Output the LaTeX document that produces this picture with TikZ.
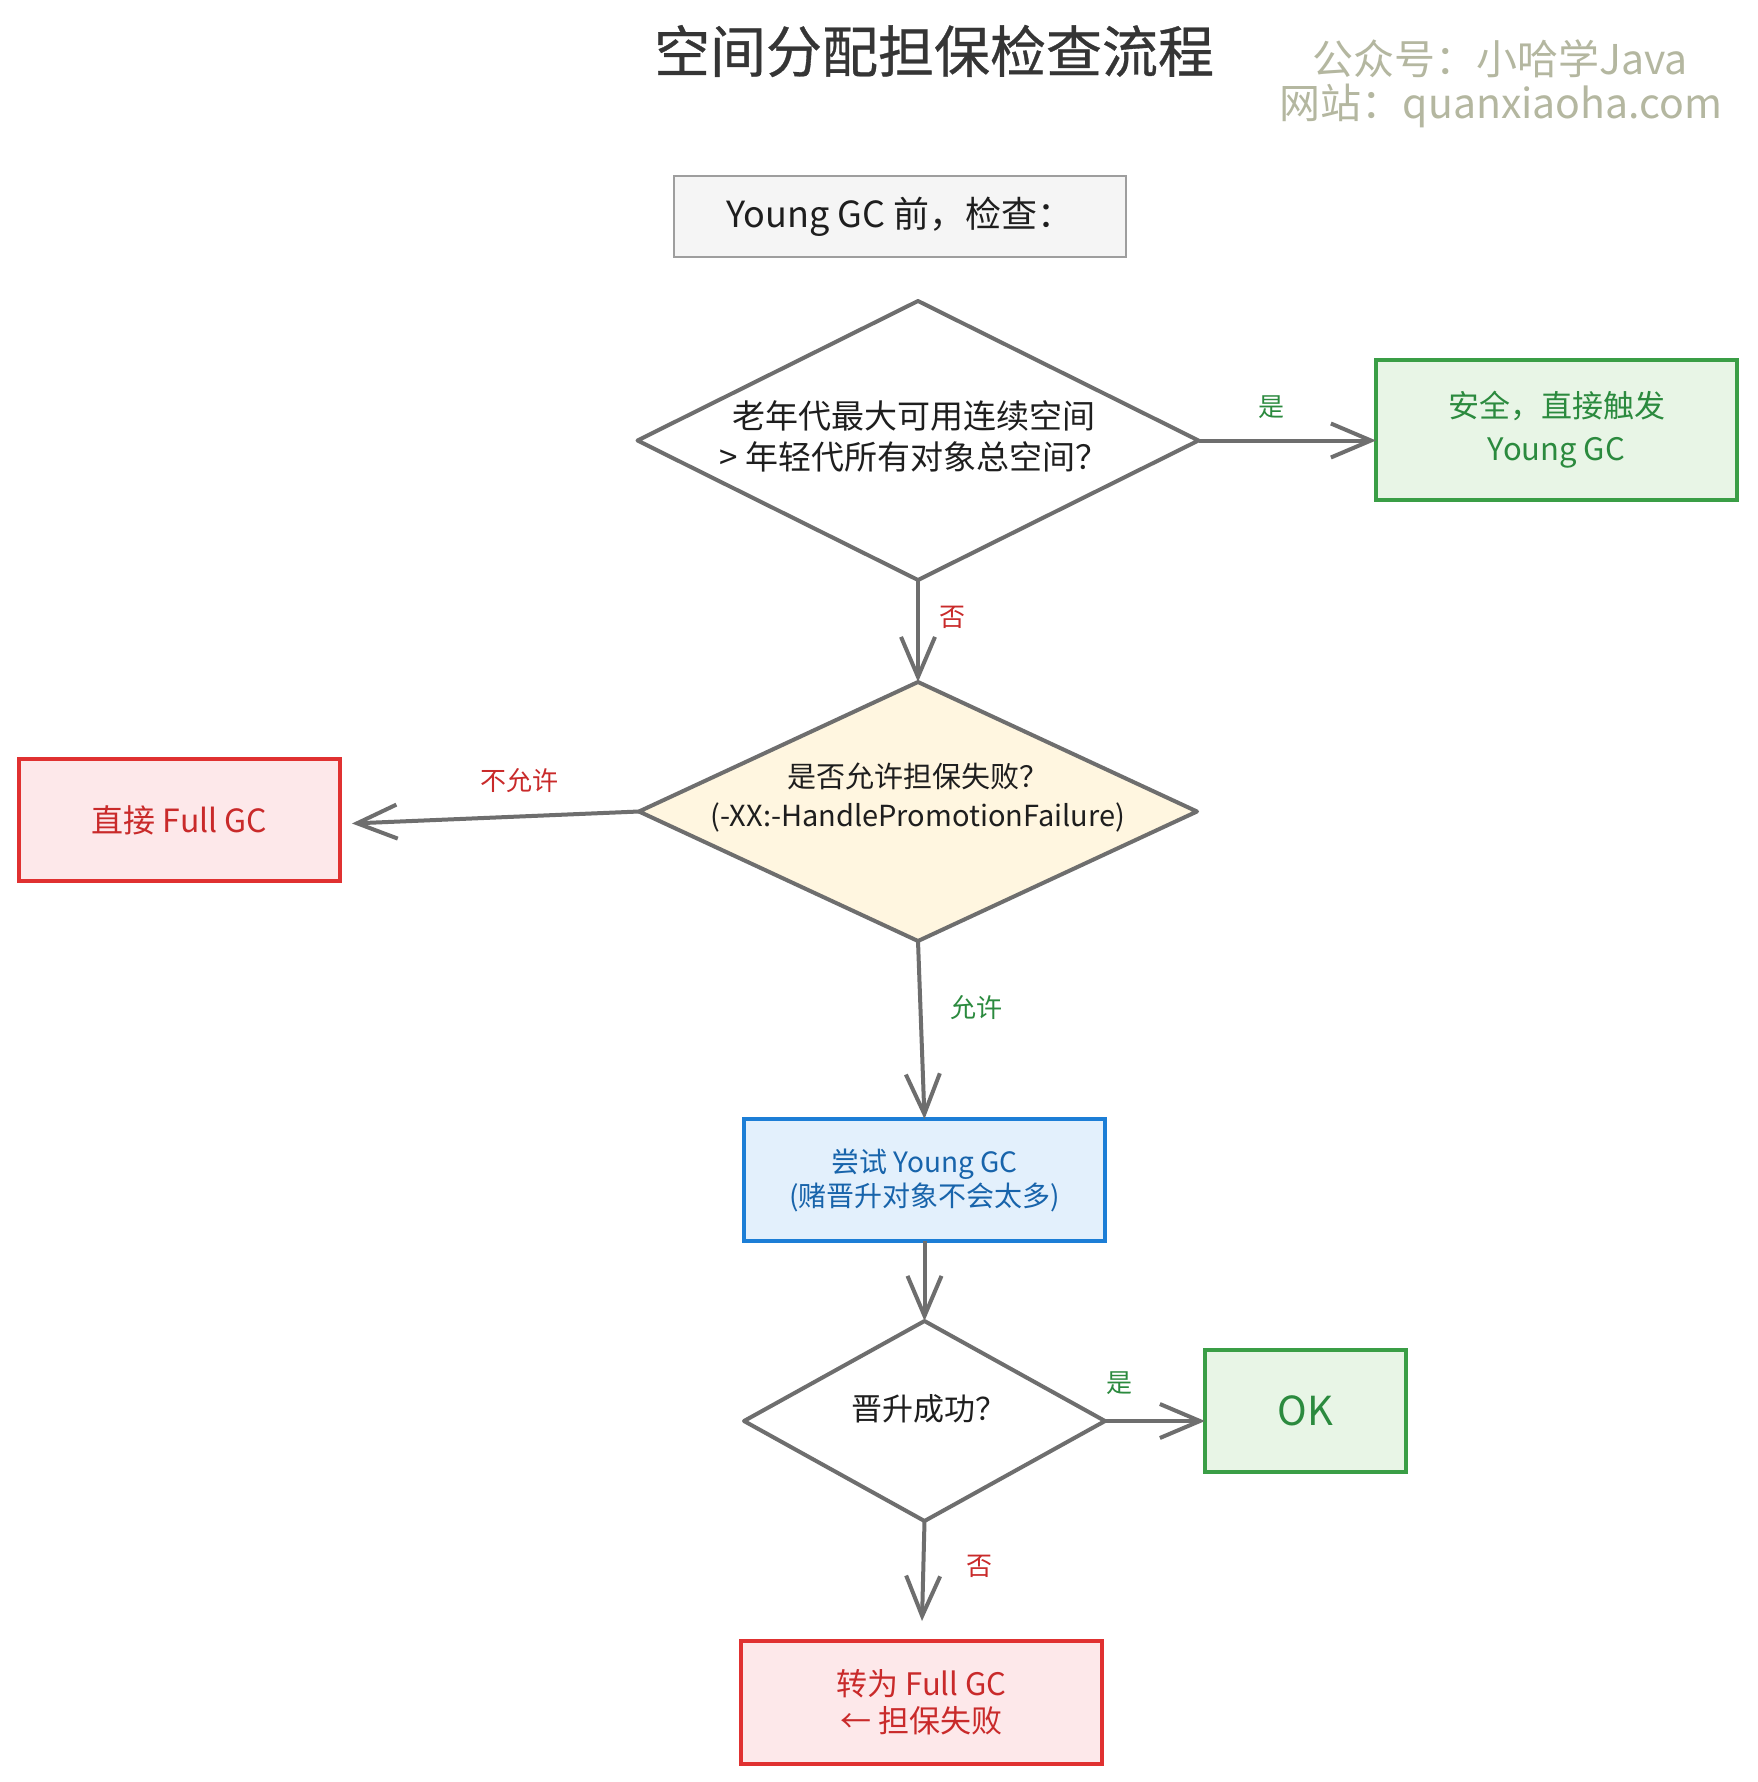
\documentclass[tikz,border=0pt]{standalone}
\usepackage{fontspec}
\setmainfont{Noto Sans CJK SC}
\newfontfamily\titlefont[FakeBold=0.6]{Noto Sans CJK SC}
\usetikzlibrary{arrows.meta}
\definecolor{stroke}{HTML}{6E6E6E}
\definecolor{ink}{HTML}{1E1E1E}
\definecolor{wm}{HTML}{B4B7A0}
\definecolor{greyfill}{HTML}{F5F5F5}
\definecolor{greyline}{HTML}{9E9E9E}
\definecolor{gfill}{HTML}{E8F5E6}
\definecolor{gline}{HTML}{3A9E46}
\definecolor{gtext}{HTML}{2B8A3E}
\definecolor{rfill}{HTML}{FDE8EA}
\definecolor{rline}{HTML}{E03131}
\definecolor{rtext}{HTML}{C92A2A}
\definecolor{bfill}{HTML}{E3F0FC}
\definecolor{bline}{HTML}{1C7ED6}
\definecolor{btext}{HTML}{1864AB}
\definecolor{cfill}{HTML}{FFF6E0}
\tikzset{
  boxbase/.style={rectangle, draw, line width=1.8pt, inner sep=0pt, outer sep=0pt, align=center},
  greybox/.style={boxbase, fill=greyfill, draw=greyline, line width=1.3pt, text=ink},
  greenbox/.style={boxbase, fill=gfill, draw=gline, text=gtext},
  redbox/.style={boxbase, fill=rfill, draw=rline, text=rtext},
  bluebox/.style={boxbase, fill=bfill, draw=bline, text=btext},
  decision/.style={rectangle, draw=none, inner sep=0pt, outer sep=0pt, align=center, text=ink},
  diamondline/.style={draw=stroke, line width=2pt, line join=round},
  conn/.style={draw=stroke, line width=2pt, -{Straight Barb[length=20pt,width=17pt,line width=2pt]}},
  yeslab/.style={text=gtext, font=\fontsize{13}{15}\selectfont},
  nolab/.style={text=rtext, font=\fontsize{13}{15}\selectfont},
}
\begin{document}
\begin{tikzpicture}[x=0.5pt,y=-0.5pt]
\useasboundingbox (0,0) rectangle (1757,1782);
\fill[white] (0,0) rectangle (1757,1782);

% title and watermark
\node[text=ink!90, font=\fontsize{28}{33}\titlefont] (title) at (934,51) {空间分配担保检查流程};
\node[text=wm, font=\fontsize{20.5}{24}\selectfont] (wm1) at (1500,59) {公众号：小哈学Java};
\node[text=wm, font=\fontsize{20.5}{24}\selectfont] (wm2) at (1501,106) {网站：quanxiaoha.com};

% boxes
\node[greybox, minimum width=226pt, minimum height=40.5pt, font=\fontsize{18}{22}\selectfont] (pre) at (900,216.5) {Young GC 前，检查：};

\node[greenbox, minimum width=180.5pt, minimum height=70pt, font=\fontsize{15.5}{21.5}\selectfont] (g1) at (1556.5,430) {安全，直接触发\\Young GC};

\node[redbox, minimum width=160.5pt, minimum height=61pt, font=\fontsize{16}{19}\selectfont] (r1) at (179.5,820) {直接 Full GC};

\node[bluebox, minimum width=180.5pt, minimum height=61pt, font=\fontsize{14}{17}\selectfont] (try) at (924.5,1180) {尝试 Young GC\\(赌晋升对象不会太多)};

\node[greenbox, minimum width=100.5pt, minimum height=61pt, font=\fontsize{20}{24}\selectfont] (ok) at (1305.5,1411) {OK};

\node[redbox, minimum width=180.5pt, minimum height=61.5pt, font=\fontsize{15.5}{18.5}\selectfont] (r2) at (921.5,1702.5) {转为 Full GC\\← 担保失败};

% decisions: diamond drawn through the mid-edge anchors of a bounding node
\node[decision, minimum width=280.5pt, minimum height=139.5pt] (d1) at (918,440.5) {};
\draw[diamondline, fill=white] (d1.north) -- (d1.east) -- (d1.south) -- (d1.west) -- cycle;
\node[text=ink, align=center, font=\fontsize{16.5}{20.5}\selectfont] (t1) at ([yshift=2pt,xshift=-2pt]d1.center) {老年代最大可用连续空间\\> 年轻代所有对象总空间？};

\node[decision, minimum width=279pt, minimum height=129.5pt] (d2) at (918,811.5) {};
\draw[diamondline, fill=cfill] (d2.north) -- (d2.east) -- (d2.south) -- (d2.west) -- cycle;
\node[text=ink, align=center, font=\fontsize{14.5}{19.5}\selectfont] (t2) at ([yshift=7pt]d2.center) {是否允许担保失败？\\(-XX:-HandlePromotionFailure)};

\node[decision, minimum width=180.5pt, minimum height=100pt] (d3) at (924.5,1421) {};
\draw[diamondline, fill=white] (d3.north) -- (d3.east) -- (d3.south) -- (d3.west) -- cycle;
\node[text=ink, font=\fontsize{15.5}{18}\selectfont] (t3) at ([yshift=6pt,xshift=2pt]d3.center) {晋升成功？};

% connectors
\draw[conn] (d1.east) -- (d1.east -| g1.west);
\draw[conn] (d1.south) -- (d2.north);
\draw[conn, shorten >=6pt] (d2.west) -- ([yshift=-2pt]r1.east);
\draw[conn] (d2.south) -- (try.north);
\draw[conn] (try.south) -- (d3.north);
\draw[conn] (d3.east) -- (d3.east -| ok.west);
\draw[conn, shorten >=10pt] (d3.south) -- (r2.north);

% labels
\node[yeslab] (l1) at (1271,407) {是};
\node[nolab] (l2) at (952,617) {否};
\node[nolab] (l3) at (519,781) {不允许};
\node[yeslab] (l4) at (976,1008) {允许};
\node[yeslab] (l5) at (1119,1383) {是};
\node[nolab] (l6) at (979,1566) {否};
\end{tikzpicture}
\end{document}
